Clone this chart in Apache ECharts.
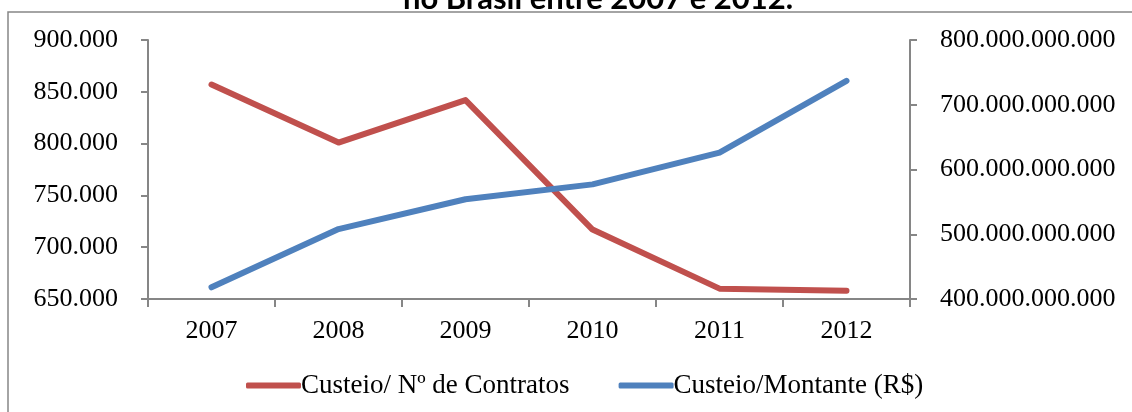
<!DOCTYPE html>
<html>
<head>
<meta charset="utf-8">
<script src="https://cdn.jsdelivr.net/npm/echarts@6/dist/echarts.min.js"></script>
<style>
html,body{margin:0;padding:0;background:#fff;}
#chart{width:1132px;height:412px;}
</style>
</head>
<body>
<div id="chart"></div>
<script>
var anos = ['2007', '2008', '2009', '2010', '2011', '2012'];
var contratos = [857000, 801000, 842000, 717000, 660000, 658000];
var montante = [418e9, 508e9, 554e9, 577e9, 626e9, 737e9];
var nomeContratos = 'Custeio/ Nº de Contratos';
var nomeMontante = 'Custeio/Montante (R$)';
var tituloLinha = 'no Brasil entre 2007 e 2012.';

// separador de milhar com ponto
function fmt(v) {
    return Math.round(v).toString().replace(/\B(?=(\d{3})+(?!\d))/g, '.');
}

var cinza = '#868686';
var fonte = '"Liberation Serif", "Times New Roman", serif';

var eixoY = function (pos, min, max, step) {
    return {
        type: 'value',
        position: pos,
        min: min,
        max: max,
        interval: step,
        axisLine: {show: true, lineStyle: {color: cinza, width: 2}},
        axisTick: {show: true, length: 7, lineStyle: {color: cinza, width: 2}},
        splitLine: {show: false},
        axisLabel: {color: '#000', fontFamily: fonte, fontSize: 26, margin: 30, formatter: fmt}
    };
};

var myChart = echarts.init(document.getElementById('chart'));
var option = {
    animation: false,
    title: {
        text: tituloLinha,
        left: 593,
        textAlign: 'center',
        top: -22,
        textStyle: {fontFamily: 'Lato, "Open Sans", sans-serif', fontWeight: 'bold', fontSize: 31, color: '#000'}
    },
    graphic: [{
        type: 'rect',
        shape: {x: 8, y: 12, width: 1200, height: 500},
        style: {fill: 'none', stroke: cinza, lineWidth: 1.5},
        silent: true
    }],
    legend: {
        bottom: 8,
        left: 241,
        itemWidth: 55,
        itemHeight: 6,
        itemGap: 49,
        icon: 'roundRect',
        textStyle: {fontFamily: fonte, fontSize: 27, color: '#000', padding: [0, 0, 0, -5]},
        data: [nomeContratos, nomeMontante]
    },
    grid: {left: 148, right: 222, top: 40, bottom: 113},
    xAxis: {
        type: 'category',
        data: anos,
        boundaryGap: true,
        axisLine: {lineStyle: {color: cinza, width: 2}},
        axisTick: {show: true, length: 8, lineStyle: {color: cinza, width: 2}},
        axisLabel: {color: '#000', fontFamily: fonte, fontSize: 26, margin: 19}
    },
    yAxis: [
        eixoY('left', 650000, 900000, 50000),
        eixoY('right', 400e9, 800e9, 100e9)
    ],
    series: [
        {
            name: nomeContratos,
            type: 'line',
            yAxisIndex: 0,
            data: contratos,
            showSymbol: false,
            color: '#C0504D',
            lineStyle: {width: 6, cap: 'round', join: 'round'}
        },
        {
            name: nomeMontante,
            type: 'line',
            yAxisIndex: 1,
            data: montante,
            showSymbol: false,
            color: '#4F81BD',
            lineStyle: {width: 6, cap: 'round', join: 'round'}
        }
    ]
};
myChart.setOption(option);
</script>
</body>
</html>
